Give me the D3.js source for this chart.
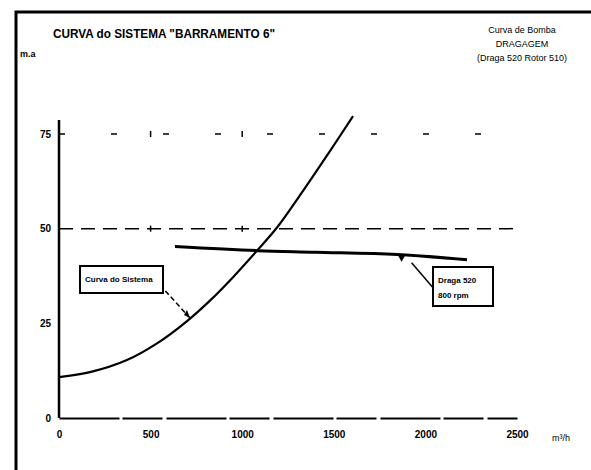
<!DOCTYPE html>
<html>
<head>
<meta charset="utf-8">
<script src="https://cdn.jsdelivr.net/npm/d3@7"></script>
<style>
  body { margin: 0; background: #fff; }
  svg { display: block; }
  text { font-family: "Liberation Sans Narrow", "Arial Narrow", "Liberation Sans", sans-serif; fill: #000; }
</style>
</head>
<body>
<div id="chart"></div>
<script>
// curva do sistema (vazao m3/h, altura m.a)
const sistemaQ = [0, 169, 371, 535, 699, 824, 950, 1081, 1190, 1332, 1479, 1605];
const sistemaH = [10.8, 12.1, 15.3, 19.7, 25.6, 31, 37.2, 44.2, 50.3, 60, 70.5, 79.7];
// curva da bomba
const bombaQ = [633, 1081, 1400, 1845, 2227];
const bombaH = [45.3, 44.2, 43.8, 43.2, 41.8];
const xTicks = [0, 500, 1000, 1500, 2000, 2500];
const yTicks = [0, 25, 50, 75];

const width = 591, height = 470;
const svg = d3.select('#chart').append('svg')
    .attr('width', width).attr('height', height);

const x = d3.scaleLinear().domain([0, 2500]).range([59, 517]);
const y = d3.scaleLinear().domain([0, 75]).range([418, 134]);

// moldura
svg.append('path')
    .attr('d', `M16,${height} L16,12 L${width},12`)
    .attr('fill', 'none').attr('stroke', '#000').attr('stroke-width', 3);

// titulos
svg.append('text').attr('x', 53).attr('y', 38).attr('font-size', 12)
    .attr('font-weight', 'bold').attr('textLength', 222).attr('lengthAdjust', 'spacingAndGlyphs')
    .text('CURVA do SISTEMA "BARRAMENTO 6"');
svg.append('text').attr('x', 20).attr('y', 57).attr('font-size', 9).attr('font-weight', 'bold').text('m.a');
const info = ['Curva de Bomba', 'DRAGAGEM', '(Draga 520 Rotor 510)'];
svg.append('g').selectAll('text').data(info).enter().append('text')
    .attr('x', 522).attr('y', (d, i) => 33 + i * 14)
    .attr('text-anchor', 'middle').attr('font-size', 9)
    .text(d => d);

// grade
svg.append('line')
    .attr('x1', x(0)).attr('x2', x(2500)).attr('y1', y(50)).attr('y2', y(50))
    .attr('stroke', '#000').attr('stroke-width', 1.5).attr('stroke-dasharray', '14,8');
svg.append('line')
    .attr('x1', x(0)).attr('x2', x(2500)).attr('y1', y(75)).attr('y2', y(75))
    .attr('stroke', '#000').attr('stroke-width', 1.5).attr('stroke-dasharray', '6,46');
[50, 75].forEach(v => {
  svg.append('g').selectAll('line').data([500, 1000]).enter().append('line')
      .attr('x1', d => x(d)).attr('x2', d => x(d))
      .attr('y1', y(v) - 3).attr('y2', y(v) + 3)
      .attr('stroke', '#000').attr('stroke-width', 1.5);
});

// eixos
const xAxis = d3.axisBottom(x).tickValues(xTicks).tickFormat(d3.format('d')).tickSize(0).tickPadding(13);
const gx = svg.append('g').attr('transform', `translate(0,${y(0)})`).call(xAxis);
gx.select('.domain').attr('stroke-width', 2).attr('stroke-dasharray', '60,3,40,4');
gx.selectAll('text').attr('font-size', 10).attr('font-weight', 'bold').attr('font-family', null);

const yAxis = d3.axisLeft(y).tickValues(yTicks).tickSize(0).tickPadding(8);
const gy = svg.append('g').attr('transform', `translate(${x(0)},0)`).call(yAxis);
gy.select('.domain').attr('stroke-width', 2.5).attr('d', `M0,${y(0)}V120`);
gy.selectAll('text').attr('font-size', 10).attr('font-weight', 'bold').attr('font-family', null);

svg.append('text').attr('x', 552).attr('y', 441).attr('font-size', 9).text('m³/h');

// curvas
const line = d3.line().x(d => x(d[0])).y(d => y(d[1])).curve(d3.curveCatmullRom);
svg.append('path').datum(d3.zip(sistemaQ, sistemaH))
    .attr('d', line).attr('fill', 'none').attr('stroke', '#000').attr('stroke-width', 2.2);
svg.append('path').datum(d3.zip(bombaQ, bombaH))
    .attr('d', line).attr('fill', 'none').attr('stroke', '#000').attr('stroke-width', 3);

// rotulos
function callout(tx, ty, bx, by, bw, bh, lines, lx, ly, dashed) {
  svg.append('line').attr('x1', lx).attr('y1', ly).attr('x2', tx).attr('y2', ty)
      .attr('stroke', '#000').attr('stroke-width', 1.5)
      .attr('stroke-dasharray', dashed ? '5,3' : null);
  svg.append('rect').attr('x', bx).attr('y', by).attr('width', bw).attr('height', bh)
      .attr('fill', '#fff').attr('stroke', '#000').attr('stroke-width', 2);
  svg.append('g').selectAll('text').data(lines).enter().append('text')
      .attr('x', bx + 5).attr('y', (d, i) => by + 16 + i * 15)
      .attr('font-size', 8).attr('font-weight', 'bold').text(d => d);
}
const sx = x(715), sy = y(26.4);
callout(sx, sy, 80, 266, 83, 27, ['Curva do Sistema'], 160, 285, true);
svg.append('path')
    .attr('d', `M${sx},${sy} l-6,-3 l3,-5 z`).attr('fill', '#000');

const px = x(1870), py = y(43.1);
svg.append('path')
    .attr('d', `M${px - 4},${py} L${px + 4},${py} L${px},${py + 7} z`).attr('fill', '#000');
callout(px + 10, py + 8, 433, 267, 60, 39, ['Draga 520', '800 rpm'], 435, 290, false);
</script>
</body>
</html>
